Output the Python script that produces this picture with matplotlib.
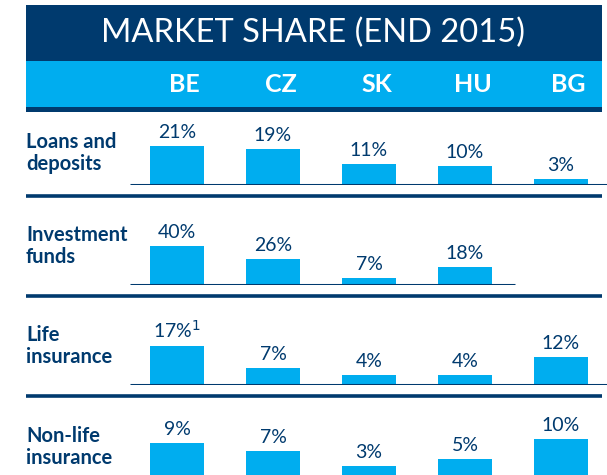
import matplotlib
matplotlib.use("Agg")
import matplotlib.pyplot as plt
import numpy as np

# Data
countries = ["BE", "CZ", "SK", "HU", "BG"]
products = ["Loans and\ndeposits", "Investment\nfunds", "Life\ninsurance", "Non-life\ninsurance"]
loans = [21, 19, 11, 10, 3]
funds = [40, 26, 7, 18, None]
life = [17, 7, 4, 4, 12]
nonlife = [9, 7, 3, 5, 10]
footnotes = {(2, 0): "1"}  # BE life insurance carries footnote 1

NAVY = "#003A6E"
BLUE = "#00ADEF"
plt.rcParams["font.family"] = ["Lato", "DejaVu Sans"]

W, H = 607, 475
fig = plt.figure(figsize=(W / 100, H / 100), dpi=100)

# Background axes in pixel coordinates for header and separators
bg = fig.add_axes([0, 0, 1, 1])
bg.set_xlim(0, W)
bg.set_ylim(H, 0)
bg.axis("off")
bg.add_patch(plt.Rectangle((26, 5), 576, 56, color=NAVY, lw=0))
bg.add_patch(plt.Rectangle((26, 61), 576, 46, color=BLUE, lw=0))
bg.add_patch(plt.Rectangle((26, 107), 576, 5, color=NAVY, lw=0))
bg.text(313, 33, "MARKET SHARE (END 2015)", color="white", fontsize=23.5,
        ha="center", va="center")

# Row geometry (pixels)
baselines = [184.5, 284.5, 384.5, 478]
separators = [196, 296, 396]
label_y = [153, 246, 346, 447]
bar_px = 39  # height of the tallest bar in each row
for y in separators:
    bg.plot([26, 602], [y, y], color=NAVY, lw=2.6, solid_capstyle="butt")

# shared x mapping: axes from x=130 to right edge, 96 px per country
x0_px, step = 130, 96
first_center = (177 - x0_px) / step
xlim = (-first_center, (W - x0_px) / step - first_center)
xs = np.arange(len(countries))

# country header band
hb = fig.add_axes([x0_px / W, 1 - 107 / H, 1 - x0_px / W, 46 / H])
hb.set_xlim(*xlim)
hb.set_ylim(0, 1)
hb.axis("off")
for x, c in zip(xs, countries):
    hb.text(x + 0.08, 0.5, c, color="white", fontsize=18, fontweight="bold",
            ha="center", va="center")

rows = [loans, funds, life, nonlife]
for r, (vals, name) in enumerate(zip(rows, products)):
    base = baselines[r]
    ax_h = 80
    ax = fig.add_axes([x0_px / W, 1 - base / H, 1 - x0_px / W, ax_h / H])
    ax.patch.set_alpha(0)
    ax.axis("off")
    vmax = max(v for v in vals if v is not None)
    ax.set_xlim(*xlim)
    ax.set_ylim(0, vmax * ax_h / bar_px)
    px = ax_h / ax.get_ylim()[1]  # pixels per unit
    valid = [(x, v) for x, v in zip(xs, vals) if v is not None]
    ax.bar([x for x, _ in valid], [v for _, v in valid], width=0.56,
           color=BLUE, zorder=2)
    right = xlim[1] if vals[-1] is not None else 3.52
    ax.hlines(0, xlim[0], right, color=NAVY, lw=2.2, zorder=3)
    for x, v in valid:
        lab = f"{v}%"
        sup = footnotes.get((r, int(x)))
        if sup:
            lab = f"{v}%$^{{{sup}}}$"
        ax.text(x, v + 5 / px, lab, color=NAVY, fontsize=14,
                ha="center", va="bottom", clip_on=False)
    bg.text(26, label_y[r], name, color=NAVY, fontsize=14.5, fontweight="bold",
            ha="left", va="center", linespacing=1.08)

fig.savefig("out.png", dpi=100)
